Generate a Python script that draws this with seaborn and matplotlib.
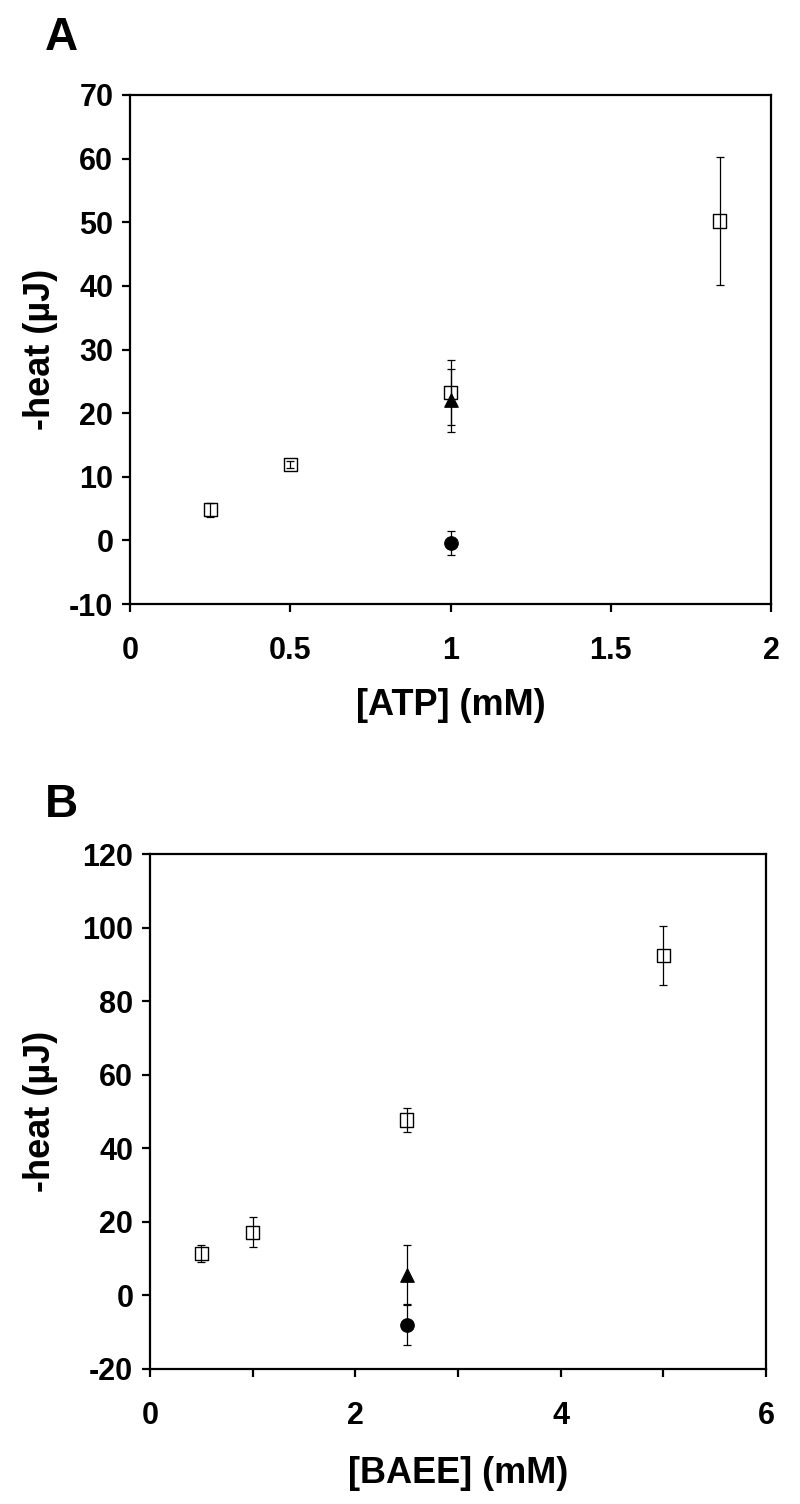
import matplotlib
matplotlib.use("Agg")
import matplotlib.pyplot as plt
import seaborn as sns
import pandas as pd

# Painel A: ATP
atp_sq_x = [0.25, 0.5, 1.0, 1.84]
atp_sq_y = [4.8, 11.9, 23.3, 50.2]
atp_sq_err = [1.1, 0.5, 5.1, 10.1]
atp_tri_x = [1.0]
atp_tri_y = [22.0]
atp_tri_err = [5.0]
atp_circ_x = [1.0]
atp_circ_y = [-0.4]
atp_circ_err = [1.9]

# Painel B: BAEE
baee_sq_x = [0.5, 1.0, 2.5, 5.0]
baee_sq_y = [11.3, 17.2, 47.7, 92.5]
baee_sq_err = [2.3, 4.0, 3.3, 8.0]
baee_tri_x = [2.5]
baee_tri_y = [5.6]
baee_tri_err = [8.0]
baee_circ_x = [2.5]
baee_circ_y = [-8.1]
baee_circ_err = [5.5]

sns.set_theme(style="ticks")
plt.rcParams["font.family"] = ["Liberation Sans", "DejaVu Sans"]
plt.rcParams["font.weight"] = "bold"
plt.rcParams["axes.unicode_minus"] = False
plt.rcParams["text.color"] = "black"
plt.rcParams["axes.labelcolor"] = "black"
plt.rcParams["xtick.color"] = "black"
plt.rcParams["ytick.color"] = "black"


def draw_series(ax, x, y, err, marker, filled):
    ax.errorbar(x, y, yerr=err, fmt="none", ecolor="black", elinewidth=0.9,
                capsize=2.6, capthick=0.9, zorder=2)
    df = pd.DataFrame({"x": x, "y": y})
    if filled:
        sns.scatterplot(data=df, x="x", y="y", marker=marker, s=95, color="black",
                        edgecolor="black", linewidth=0.8, ax=ax, zorder=3)
    else:
        sns.scatterplot(data=df, x="x", y="y", marker=marker, s=90,
                        facecolor="none", edgecolor="black", linewidth=1.0,
                        ax=ax, zorder=3)


def style_axes(ax, xlabel, ylabel, xlab_xy, ylab_xy):
    for s in ax.spines.values():
        s.set_linewidth(1.6)
        s.set_color("black")
    ax.tick_params(axis="both", which="both", direction="out", length=6,
                   width=1.6, color="black", labelsize=22, labelcolor="black")
    ax.tick_params(axis="x", which="both", pad=17)
    ax.tick_params(axis="y", pad=6)
    for lab in ax.get_xticklabels() + ax.get_yticklabels():
        lab.set_fontweight("bold")
    ax.set_xlabel(xlabel, fontsize=26, fontweight="bold", color="black")
    ax.set_ylabel(ylabel, fontsize=26, fontweight="bold", color="black")
    ax.xaxis.set_label_coords(*xlab_xy)
    ax.yaxis.set_label_coords(*ylab_xy)


fig = plt.figure(figsize=(8, 15.04), dpi=100)

# Painel A
axA = fig.add_axes([130 / 800, 1 - 604 / 1504, 641 / 800, 509 / 1504])
draw_series(axA, atp_sq_x, atp_sq_y, atp_sq_err, "s", False)
draw_series(axA, atp_tri_x, atp_tri_y, atp_tri_err, "^", True)
draw_series(axA, atp_circ_x, atp_circ_y, atp_circ_err, "o", True)
axA.set_xlim(0, 2)
axA.set_ylim(-10, 70)
axA.set_xticks([0, 0.5, 1, 1.5, 2])
axA.set_xticklabels(["0", "0.5", "1", "1.5", "2"])
axA.set_yticks(range(-10, 71, 10))
style_axes(axA, "[ATP] (mM)", "-heat (µJ)", (0.5, -0.165), (-0.112, 0.5))

# Painel B
axB = fig.add_axes([150 / 800, 1 - 1369 / 1504, 616 / 800, 515 / 1504])
draw_series(axB, baee_sq_x, baee_sq_y, baee_sq_err, "s", False)
draw_series(axB, baee_tri_x, baee_tri_y, baee_tri_err, "^", True)
draw_series(axB, baee_circ_x, baee_circ_y, baee_circ_err, "o", True)
axB.set_xlim(0, 6)
axB.set_ylim(-20, 120)
axB.set_xticks([0, 2, 4, 6])
axB.set_xticks([1, 3, 5], minor=True)
axB.set_yticks(range(-20, 121, 20))
style_axes(axB, "[BAEE] (mM)", "-heat (µJ)", (0.5, -0.169), (-0.149, 0.5))

fig.text(45 / 800, 1 - 50 / 1504, "A", fontsize=33, fontweight="bold", va="baseline")
fig.text(45 / 800, 1 - 817 / 1504, "B", fontsize=33, fontweight="bold", va="baseline")

fig.savefig("out.png", dpi=100, facecolor="white")
